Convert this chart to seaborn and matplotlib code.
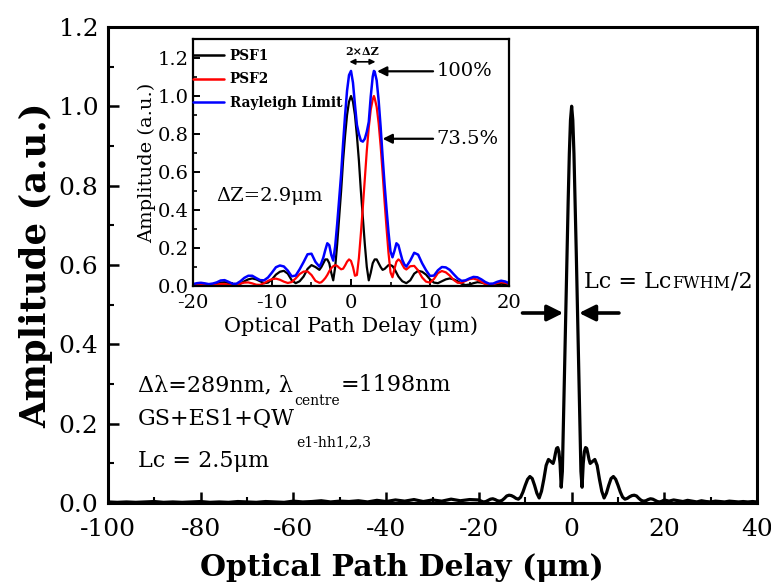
import matplotlib
matplotlib.use("Agg")
import matplotlib.pyplot as plt
import seaborn as sns
import numpy as np
from matplotlib.ticker import MultipleLocator
from matplotlib.transforms import offset_copy

# ---------------- data ----------------
main_x = [-100, -98, -96, -94, -92, -90, -88, -86, -84, -82, -80, -78, -76, -74, -72, -70,
          -68, -66, -64, -62, -60, -58, -56, -54, -52, -50, -48, -46, -44, -42, -40, -38,
          -36, -34, -32, -30, -28, -26, -24, -22,
          -20, -19.5, -19, -18.5, -18, -17.5, -17, -16.5, -16, -15.5, -15, -14.5, -14, -13.5,
          -13, -12.5, -12, -11.5, -11, -10.5, -10, -9.5, -9, -8.5, -8, -7.5, -7, -6.5, -6,
          -5.5, -5, -4.5,
          -4, -3.75, -3.5, -3.25, -3, -2.75, -2.5, -2.25, -2, -1.75, -1.5, -1.25, -1, -0.75,
          -0.5, -0.25, 0, 0.25, 0.5, 0.75, 1, 1.25, 1.5, 1.75, 2, 2.25, 2.5, 2.75, 3, 3.25,
          3.5, 3.75, 4,
          4.5, 5, 5.5, 6, 6.5, 7, 7.5, 8, 8.5, 9, 9.5, 10, 10.5, 11, 11.5, 12, 12.5, 13, 13.5,
          14, 14.5, 15, 15.5, 16, 16.5, 17, 17.5, 18, 18.5, 19, 19.5, 20,
          21, 22, 23, 24, 25, 26, 27, 28, 29, 30, 31, 32, 33, 34, 35, 36, 37, 38, 39, 40]
main_y = [0.003, 0.002, 0.003, 0.002, 0.003, 0.004, 0.002, 0.003, 0.002, 0.003, 0.004, 0.002,
          0.003, 0.002, 0.004, 0.003, 0.002, 0.004, 0.003, 0.002, 0.005, 0.003, 0.004, 0.006,
          0.003, 0.005, 0.004, 0.006, 0.003, 0.007, 0.004, 0.008, 0.005, 0.009, 0.004, 0.008,
          0.005, 0.010, 0.006, 0.009,
          0.008, 0.005, 0.003, 0.004, 0.007, 0.010, 0.011, 0.009, 0.006, 0.005, 0.007, 0.012,
          0.018, 0.020, 0.019, 0.016, 0.012, 0.010, 0.015, 0.028, 0.045, 0.060, 0.067, 0.062,
          0.045, 0.025, 0.013, 0.030, 0.060, 0.095, 0.110, 0.105,
          0.100, 0.110, 0.125, 0.138, 0.140, 0.130, 0.100, 0.040, 0.080, 0.210, 0.350, 0.490,
          0.630, 0.760, 0.880, 0.965, 1.000, 0.965, 0.880, 0.760, 0.630, 0.490, 0.350, 0.210,
          0.080, 0.040, 0.100, 0.130, 0.140, 0.138, 0.125, 0.110, 0.100,
          0.105, 0.110, 0.095, 0.060, 0.030, 0.013, 0.025, 0.045, 0.062, 0.067, 0.060, 0.045,
          0.028, 0.015, 0.010, 0.012, 0.016, 0.019, 0.020, 0.018, 0.012, 0.007, 0.005, 0.006,
          0.009, 0.011, 0.010, 0.007, 0.004, 0.003, 0.005, 0.008,
          0.005, 0.008, 0.006, 0.004, 0.007, 0.005, 0.003, 0.006, 0.004, 0.003, 0.005, 0.004,
          0.003, 0.005, 0.004, 0.003, 0.004, 0.003, 0.004, 0.003]

inset_x = [-20, -19.5, -19, -18.5, -18, -17.5, -17, -16.5, -16, -15.5, -15, -14.5, -14, -13.5,
           -13, -12.5, -12, -11.5, -11, -10.5, -10, -9.5, -9, -8.5, -8, -7.5, -7, -6.5, -6,
           -5.5, -5, -4.5,
           -4, -3.75, -3.5, -3.25, -3, -2.75, -2.5, -2.25, -2, -1.75, -1.5, -1.25, -1, -0.75,
           -0.5, -0.25, 0, 0.25, 0.5, 0.75, 1, 1.25, 1.5, 1.75, 2, 2.25, 2.5, 2.75, 2.9, 3,
           3.25, 3.5, 3.75, 4, 4.25, 4.5, 4.75, 5, 5.25, 5.5, 5.75, 6, 6.25, 6.5, 6.75, 7,
           7.5, 8, 8.5, 9, 9.5, 10, 10.5, 11, 11.5, 12, 12.5, 13, 13.5, 14, 14.5, 15, 15.5,
           16, 16.5, 17, 17.5, 18, 18.5, 19, 19.5, 20]
psf1 = [0.006, 0.010, 0.012, 0.008, 0.004, 0.006, 0.012, 0.018, 0.020, 0.015, 0.008, 0.005,
        0.012, 0.025, 0.035, 0.040, 0.035, 0.025, 0.015, 0.018, 0.035, 0.060, 0.075, 0.080,
        0.065, 0.030, 0.015, 0.025, 0.050, 0.090, 0.110, 0.100,
        0.085, 0.100, 0.120, 0.140, 0.140, 0.120, 0.070, 0.030, 0.100, 0.220, 0.360, 0.500,
        0.660, 0.790, 0.900, 0.970, 1.000, 0.970, 0.900, 0.790, 0.660, 0.500, 0.360, 0.220,
        0.100, 0.030, 0.070, 0.120, 0.132, 0.140, 0.140, 0.120, 0.100, 0.085, 0.090, 0.100,
        0.110, 0.110, 0.105, 0.090, 0.070, 0.050, 0.037, 0.025, 0.020, 0.015,
        0.030, 0.065, 0.080, 0.075, 0.060, 0.035, 0.018, 0.015, 0.025, 0.035, 0.040, 0.035,
        0.025, 0.012, 0.005, 0.008, 0.015, 0.020, 0.018, 0.012, 0.006, 0.004, 0.008, 0.012,
        0.010, 0.006]
psf2 = [0.004, 0.005, 0.005, 0.006, 0.006, 0.007, 0.007, 0.011, 0.011, 0.007, 0.004, 0.007,
        0.013, 0.018, 0.019, 0.014, 0.007, 0.006, 0.015, 0.027, 0.036, 0.039, 0.033, 0.023,
        0.016, 0.021, 0.040, 0.063, 0.076, 0.077, 0.058, 0.027,
        0.017, 0.020, 0.030, 0.042, 0.058, 0.078, 0.094, 0.104, 0.110, 0.106, 0.096, 0.088,
        0.091, 0.108, 0.128, 0.140, 0.132, 0.100, 0.054, 0.058, 0.148, 0.276, 0.416, 0.564,
        0.712, 0.834, 0.928, 0.982, 1.000, 0.988, 0.942, 0.856, 0.738, 0.596, 0.444, 0.304,
        0.172, 0.072, 0.046, 0.090, 0.128, 0.140, 0.132, 0.112, 0.094, 0.087,
        0.104, 0.106, 0.082, 0.045, 0.023, 0.018, 0.037, 0.068, 0.079, 0.072, 0.055, 0.032,
        0.017, 0.017, 0.027, 0.036, 0.039, 0.033, 0.022, 0.011, 0.006, 0.009, 0.016, 0.020,
        0.017, 0.011]
rayleigh = [0.010, 0.015, 0.017, 0.014, 0.010, 0.013, 0.019, 0.029, 0.031, 0.022, 0.012, 0.012,
            0.025, 0.043, 0.054, 0.054, 0.042, 0.031, 0.030, 0.045, 0.071, 0.099, 0.108, 0.103,
            0.081, 0.051, 0.055, 0.088, 0.126, 0.167, 0.170, 0.127,
            0.102, 0.121, 0.150, 0.190, 0.225, 0.215, 0.164, 0.134, 0.210, 0.326, 0.456, 0.588,
            0.751, 0.898, 1.028, 1.110, 1.132, 1.070, 0.954, 0.848, 0.800, 0.765, 0.760, 0.775,
            0.812, 0.864, 0.998, 1.102, 1.132, 1.128, 1.082, 0.976, 0.838, 0.681, 0.534, 0.404,
            0.282, 0.182, 0.151, 0.185, 0.225, 0.215, 0.175, 0.137, 0.114, 0.102,
            0.134, 0.175, 0.165, 0.120, 0.083, 0.053, 0.055, 0.083, 0.100, 0.098, 0.085, 0.062,
            0.040, 0.027, 0.030, 0.040, 0.048, 0.046, 0.035, 0.021, 0.012, 0.013, 0.022, 0.028,
            0.024, 0.015]

# ---------------- style ----------------
sns.set_theme(style="ticks")
plt.rcParams["font.family"] = ["DejaVu Serif"]
plt.rcParams["axes.unicode_minus"] = False
plt.rcParams["text.color"] = "black"
plt.rcParams["axes.labelcolor"] = "black"
plt.rcParams["xtick.color"] = "black"
plt.rcParams["ytick.color"] = "black"
plt.rcParams["axes.edgecolor"] = "black"

fig = plt.figure(figsize=(7.71, 5.83), dpi=100)
fig.patch.set_facecolor("white")

# ---------------- main axes ----------------
ax = fig.add_axes([0.140, 0.137, 0.842, 0.817])
sns.lineplot(x=main_x, y=main_y, ax=ax, color="black", lw=2.3, sort=False, estimator=None)
ax.set_xlim(-100, 40)
ax.set_ylim(0, 1.2)
ax.xaxis.set_major_locator(MultipleLocator(20))
ax.xaxis.set_minor_locator(MultipleLocator(10))
ax.yaxis.set_major_locator(MultipleLocator(0.2))
ax.yaxis.set_minor_locator(MultipleLocator(0.1))
ax.yaxis.set_major_formatter(matplotlib.ticker.FormatStrFormatter("%.1f"))
ax.tick_params(which="major", direction="in", length=8, width=1.8, labelsize=18, pad=7,
               colors="black")
ax.tick_params(axis="x", which="major", pad=11)
ax.tick_params(which="minor", direction="in", length=4.5, width=1.5, colors="black")
for s in ax.spines.values():
    s.set_linewidth(2.2)
    s.set_color("black")
ax.set_xlabel("Optical Path Delay (μm)", fontsize=21.5, fontweight="bold", color="black")
ax.xaxis.set_label_coords(0.453, -0.105)
ax.set_ylabel("Amplitude (a.u.)", fontsize=25.5, fontweight="bold", labelpad=4,
              color="black")

renderer = fig.canvas.get_renderer()


def rich(axis, x, y, parts):
    xoff = 0.0
    for txt, size, dy in parts:
        tr = offset_copy(axis.transData, fig=fig, x=xoff, y=dy, units="dots")
        t = axis.text(x, y, txt, fontsize=size, transform=tr, ha="left", va="baseline",
                      color="black")
        bb = t.get_window_extent(renderer=renderer)
        xoff += bb.width + 1


rich(ax, -93.5, 0.282, [("Δλ=289nm, λ", 16, 0), ("centre", 10, -14), ("=1198nm", 16, 0)])
rich(ax, -93.5, 0.197, [("GS+ES1+QW", 16, 0), ("e1-hh1,2,3", 10, -21)])
rich(ax, -93.5, 0.091, [("Lc = 2.5μm", 16, 0)])
rich(ax, 2.6, 0.542, [("Lc = Lc", 16, 0), ("FWHM", 11.5, 0), ("/2", 16, 0)])

arrow_kw = dict(arrowstyle="-|>", lw=2.6, color="black", mutation_scale=24,
                shrinkA=0, shrinkB=0)
ax.annotate("", xy=(-1.8, 0.479), xytext=(-10.6, 0.479), arrowprops=arrow_kw)
ax.annotate("", xy=(1.6, 0.479), xytext=(10.2, 0.479), arrowprops=arrow_kw)

# ---------------- inset ----------------
ins = fig.add_axes([0.2503, 0.5094, 0.4099, 0.4237])
sns.lineplot(x=inset_x, y=psf1, ax=ins, color="black", lw=1.6, sort=False, estimator=None,
             label="PSF1")
sns.lineplot(x=inset_x, y=psf2, ax=ins, color="#ff0000", lw=1.6, sort=False, estimator=None,
             label="PSF2")
sns.lineplot(x=inset_x, y=rayleigh, ax=ins, color="#0000ff", lw=1.8, sort=False,
             estimator=None, label="Rayleigh Limit")
ins.set_xlim(-20, 20)
ins.set_ylim(0, 1.3)
ins.xaxis.set_major_locator(MultipleLocator(10))
ins.xaxis.set_minor_locator(MultipleLocator(5))
ins.yaxis.set_major_locator(MultipleLocator(0.2))
ins.yaxis.set_minor_locator(MultipleLocator(0.1))
ins.yaxis.set_major_formatter(matplotlib.ticker.FormatStrFormatter("%.1f"))
ins.tick_params(which="major", direction="in", length=5, width=1.4, labelsize=14, pad=3,
                colors="black")
ins.tick_params(axis="x", which="major", pad=6)
ins.tick_params(which="minor", direction="in", length=3, width=1.2, colors="black")
for s in ins.spines.values():
    s.set_linewidth(1.6)
    s.set_color("black")
ins.set_xlabel("Optical Path Delay (μm)", fontsize=15, labelpad=3, color="black")
ins.set_ylabel("Amplitude (a.u.)", fontsize=14, labelpad=1, color="black")
leg = ins.legend(loc="upper left", bbox_to_anchor=(-0.035, 1.005), frameon=False,
                 prop={"family": "DejaVu Serif", "weight": "bold", "size": 9.8},
                 handlelength=2.3, handletextpad=0.4, labelspacing=0.72, borderpad=0.3)
for h in leg.get_lines():
    h.set_linewidth(1.8)
for t in leg.get_texts():
    t.set_color("black")

ins.annotate("", xy=(-0.2, 1.18), xytext=(3.1, 1.18),
             arrowprops=dict(arrowstyle="<|-|>", lw=1.2, color="black", mutation_scale=8,
                             shrinkA=0, shrinkB=0))
ins.text(1.45, 1.235, "2×ΔZ", fontsize=8, fontweight="bold", ha="center", va="center",
         color="black")
ins.annotate("100%", xy=(3.3, 1.13), xytext=(10.8, 1.13), fontsize=14, va="center",
             ha="left", color="black",
             arrowprops=dict(arrowstyle="-|>", lw=1.6, color="black", mutation_scale=14,
                             shrinkA=0, shrinkB=0))
ins.annotate("73.5%", xy=(4.0, 0.775), xytext=(10.8, 0.775), fontsize=14, va="center",
             ha="left", color="black",
             arrowprops=dict(arrowstyle="-|>", lw=1.6, color="black", mutation_scale=14,
                             shrinkA=0, shrinkB=0))
ins.text(-17.0, 0.473, "ΔZ=2.9μm", fontsize=14, ha="left", va="center", color="black")

fig.savefig("out.png", dpi=100)
